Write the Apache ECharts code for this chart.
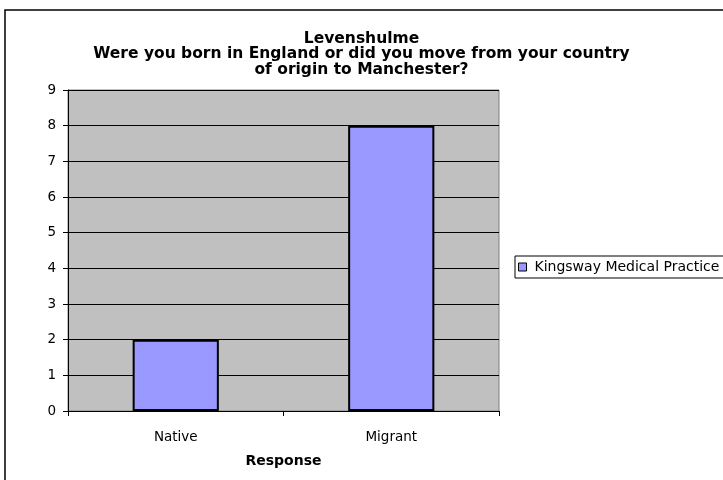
<!DOCTYPE html>
<html>
<head>
<meta charset="utf-8">
<script src="https://cdn.jsdelivr.net/npm/echarts@6/dist/echarts.min.js"></script>
<style>
  html, body { margin: 0; padding: 0; background: #fff; }
  #chart { width: 723px; height: 480px; }
</style>
</head>
<body>
<div id="chart"></div>
<script>
// Survey responses for Levenshulme
const categories = ['Native', 'Migrant'];
const seriesName = 'Kingsway Medical Practice';
const counts = [2, 8];
const titleLines = [
  'Levenshulme',
  'Were you born in England or did you move from your country',
  'of origin to Manchester?'
];
const xAxisTitle = 'Response';

const FONT = '"DejaVu Sans", Verdana, sans-serif';

const chart = echarts.init(document.getElementById('chart'), null, { renderer: 'canvas' });

chart.setOption({
  backgroundColor: '#ffffff',
  animation: false,
  title: {
    text: titleLines.join('\n'),
    left: 'center',
    top: 26,
    textStyle: {
      fontFamily: FONT,
      fontSize: 15.5,
      fontWeight: 'bold',
      color: '#000',
      lineHeight: 15.5
    }
  },
  graphic: [
    {
      type: 'rect',
      shape: { x: 5, y: 10, width: 800, height: 600 },
      style: { fill: 'none', stroke: '#000', lineWidth: 1.5 },
      silent: true,
      z: 100
    }
  ],
  legend: {
    left: 515,
    top: 256,
    orient: 'vertical',
    icon: 'rect',
    itemWidth: 8,
    itemHeight: 8,
    itemGap: 4,
    padding: [4, 12, 4, 3],
    borderColor: '#000',
    borderWidth: 1,
    itemStyle: { borderColor: '#000', borderWidth: 1 },
    textStyle: { fontFamily: FONT, fontSize: 14, color: '#000', padding: [0, 0, 0, 3] },
    data: [seriesName]
  },
  grid: {
    left: 68,
    right: 224,
    top: 90,
    bottom: 69,
    show: true,
    backgroundColor: '#C0C0C0',
    borderColor: '#808080',
    borderWidth: 1
  },
  xAxis: {
    type: 'category',
    data: categories,
    boundaryGap: true,
    axisLine: { show: true, lineStyle: { color: '#000', width: 1 } },
    axisTick: { show: true, length: 5, inside: false, lineStyle: { color: '#000' } },
    axisLabel: { fontFamily: FONT, fontSize: 13.5, color: '#000', margin: 19 },
    name: xAxisTitle,
    nameLocation: 'middle',
    nameGap: 43,
    nameTextStyle: { fontFamily: FONT, fontSize: 14, fontWeight: 'bold', color: '#000', verticalAlign: 'top' }
  },
  yAxis: {
    type: 'value',
    min: 0,
    max: 9,
    interval: 1,
    axisLine: { show: true, lineStyle: { color: '#000', width: 1 } },
    axisTick: { show: true, length: 5, inside: false, lineStyle: { color: '#000' } },
    axisLabel: { fontFamily: FONT, fontSize: 13.5, color: '#000', margin: 12 },
    splitLine: { show: true, lineStyle: { color: '#000', width: 1 } }
  },
  series: [
    {
      name: seriesName,
      type: 'bar',
      data: counts,
      barWidth: '40%',
      itemStyle: { color: '#9999FF', borderColor: '#000', borderWidth: 2 }
    }
  ]
});
</script>
</body>
</html>
